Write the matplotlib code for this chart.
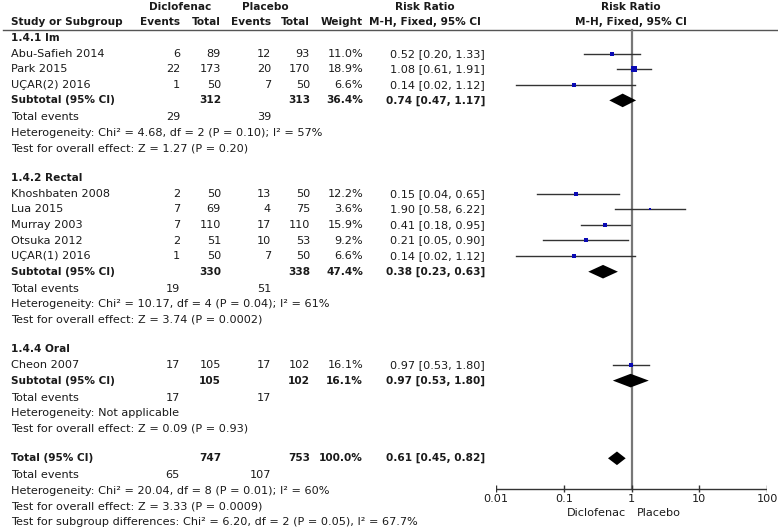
"""Forest plot: diclofenac vs placebo, risk ratio by route."""

import matplotlib

matplotlib.use("Agg")
import matplotlib.pyplot as plt

W, H = 778, 529

group_names = ["1.4.1 Im", "1.4.2 Rectal", "1.4.4 Oral"]

study_names = ["Abu-Safieh 2014", "Park 2015", "UÇAR(2) 2016",
               "Khoshbaten 2008", "Lua 2015", "Murray 2003", "Otsuka 2012", "UÇAR(1) 2016",
               "Cheon 2007"]
study_group = [0, 0, 0, 1, 1, 1, 1, 1, 2]
d_events = [6, 22, 1, 2, 7, 7, 2, 1, 17]
d_total = [89, 173, 50, 50, 69, 110, 51, 50, 105]
p_events = [12, 20, 7, 13, 4, 17, 10, 7, 17]
p_total = [93, 170, 50, 50, 75, 110, 53, 50, 102]
weights = [11.0, 18.9, 6.6, 12.2, 3.6, 15.9, 9.2, 6.6, 16.1]
rr = [0.52, 1.08, 0.14, 0.15, 1.90, 0.41, 0.21, 0.14, 0.97]
rr_lo = [0.20, 0.61, 0.02, 0.04, 0.58, 0.18, 0.05, 0.02, 0.53]
rr_hi = [1.33, 1.91, 1.12, 0.65, 6.22, 0.95, 0.90, 1.12, 1.80]

sub_d_total = [312, 330, 105]
sub_p_total = [313, 338, 102]
sub_weight = [36.4, 47.4, 16.1]
sub_rr = [0.74, 0.38, 0.97]
sub_lo = [0.47, 0.23, 0.53]
sub_hi = [1.17, 0.63, 1.80]
sub_d_events = [29, 19, 17]
sub_p_events = [39, 51, 17]
sub_het = ["Heterogeneity: Chi² = 4.68, df = 2 (P = 0.10); I² = 57%",
           "Heterogeneity: Chi² = 10.17, df = 4 (P = 0.04); I² = 61%",
           "Heterogeneity: Not applicable"]
sub_test = ["Test for overall effect: Z = 1.27 (P = 0.20)",
            "Test for overall effect: Z = 3.74 (P = 0.0002)",
            "Test for overall effect: Z = 0.09 (P = 0.93)"]

tot_d_total, tot_p_total, tot_weight = 747, 753, 100.0
tot_rr, tot_lo, tot_hi = 0.61, 0.45, 0.82
tot_d_events, tot_p_events = 65, 107
tot_notes = ["Heterogeneity: Chi² = 20.04, df = 8 (P = 0.01); I² = 60%",
             "Test for overall effect: Z = 3.33 (P = 0.0009)",
             "Test for subgroup differences: Chi² = 6.20, df = 2 (P = 0.05), I² = 67.7%"]

axis_ticks = [0.01, 0.1, 1, 10, 100]
axis_labels = ["0.01", "0.1", "1", "10", "100"]

# column x positions (pixels) and row spacing
X_NAME, X_DE, X_DT, X_PE, X_PT, X_W, X_RR = 11, 180, 221, 271, 310, 363, 485
STEP, GAP_EV, GAP_GRP = 15.6, 17.0, 29.5
FS, FS_B = 8.15, 7.6
TXT = "#1a1a1a"
SQ = "#0a0ab4"

fig = plt.figure(figsize=(W / 100, H / 100), dpi=100)
ax = fig.add_axes([0, 0, 1, 1])
ax.set_xlim(0, W)
ax.set_ylim(H, 0)
ax.axis("off")

fx = fig.add_axes([496 / W, 0, 271 / W, 1])
fx.set_xscale("log")
fx.set_xlim(0.01, 100)
fx.set_ylim(H, 0)
fx.axis("off")


def t(x, y, s, ha="left", bold=False):
    ax.text(x, y, s, ha=ha, va="center", fontsize=FS_B if bold else FS, color=TXT,
            fontweight="bold" if bold else "normal")


def diamond(y, mid, lo, hi, h=6.8):
    fx.fill([lo, mid, hi, mid], [y, y - h, y, y + h], color="black", lw=0)


# header
t(180, 7, "Diclofenac", ha="center", bold=True)
t(265, 7, "Placebo", ha="center", bold=True)
t(425, 7, "Risk Ratio", ha="center", bold=True)
t(631, 7, "Risk Ratio", ha="center", bold=True)
t(X_NAME, 22, "Study or Subgroup", bold=True)
for x, s in [(X_DE, "Events"), (X_DT, "Total"), (X_PE, "Events"), (X_PT, "Total"), (X_W, "Weight")]:
    t(x, 22, s, ha="right", bold=True)
t(425, 22, "M-H, Fixed, 95% CI", ha="center", bold=True)
t(631, 22, "M-H, Fixed, 95% CI", ha="center", bold=True)
ax.plot([3, W], [29.5, 29.5], color="#555555", lw=1)

y = 38
for g, gname in enumerate(group_names):
    t(X_NAME, y, gname, bold=True)
    for i in [k for k, sg in enumerate(study_group) if sg == g]:
        y += STEP
        t(X_NAME, y, study_names[i])
        t(X_DE, y, str(d_events[i]), ha="right")
        t(X_DT, y, str(d_total[i]), ha="right")
        t(X_PE, y, str(p_events[i]), ha="right")
        t(X_PT, y, str(p_total[i]), ha="right")
        t(X_W, y, f"{weights[i]:.1f}%", ha="right")
        t(X_RR, y, f"{rr[i]:.2f} [{rr_lo[i]:.2f}, {rr_hi[i]:.2f}]", ha="right")
        fx.plot([rr_lo[i], rr_hi[i]], [y, y], color="#333333", lw=1)
        fx.plot(rr[i], y, marker="s", ms=0.85 * weights[i] ** 0.5, color=SQ, mew=0)
    y += STEP
    t(X_NAME, y, "Subtotal (95% CI)", bold=True)
    t(X_DT, y, str(sub_d_total[g]), ha="right", bold=True)
    t(X_PT, y, str(sub_p_total[g]), ha="right", bold=True)
    t(X_W, y, f"{sub_weight[g]:.1f}%", ha="right", bold=True)
    t(X_RR, y, f"{sub_rr[g]:.2f} [{sub_lo[g]:.2f}, {sub_hi[g]:.2f}]", ha="right", bold=True)
    diamond(y, sub_rr[g], sub_lo[g], sub_hi[g])
    y += GAP_EV
    t(X_NAME, y, "Total events")
    t(X_DE, y, str(sub_d_events[g]), ha="right")
    t(X_PE, y, str(sub_p_events[g]), ha="right")
    y += STEP
    t(X_NAME, y, sub_het[g])
    y += STEP
    t(X_NAME, y, sub_test[g])
    y += GAP_GRP

t(X_NAME, y, "Total (95% CI)", bold=True)
t(X_DT, y, str(tot_d_total), ha="right", bold=True)
t(X_PT, y, str(tot_p_total), ha="right", bold=True)
t(X_W, y, f"{tot_weight:.1f}%", ha="right", bold=True)
t(X_RR, y, f"{tot_rr:.2f} [{tot_lo:.2f}, {tot_hi:.2f}]", ha="right", bold=True)
diamond(y, tot_rr, tot_lo, tot_hi)
y += GAP_EV
t(X_NAME, y, "Total events")
t(X_DE, y, str(tot_d_events), ha="right")
t(X_PE, y, str(tot_p_events), ha="right")
for note in tot_notes:
    y += STEP
    t(X_NAME, y, note)

# null line and axis
Y_AX = 489
fx.plot([1, 1], [29.5, Y_AX], color="#777777", lw=1.6, zorder=0)
fx.plot([axis_ticks[0], axis_ticks[-1]], [Y_AX, Y_AX], color="#333333", lw=1)
fx.vlines(axis_ticks, Y_AX - 4, Y_AX + 3, color="#333333", lw=1)
for tk, lab in zip(axis_ticks, axis_labels):
    fx.text(tk, Y_AX + 10, lab, ha="center", va="center", fontsize=FS, color=TXT)
t(626, 513, "Diclofenac", ha="right")
t(637, 513, "Placebo")

fig.savefig("out.png", dpi=100)
